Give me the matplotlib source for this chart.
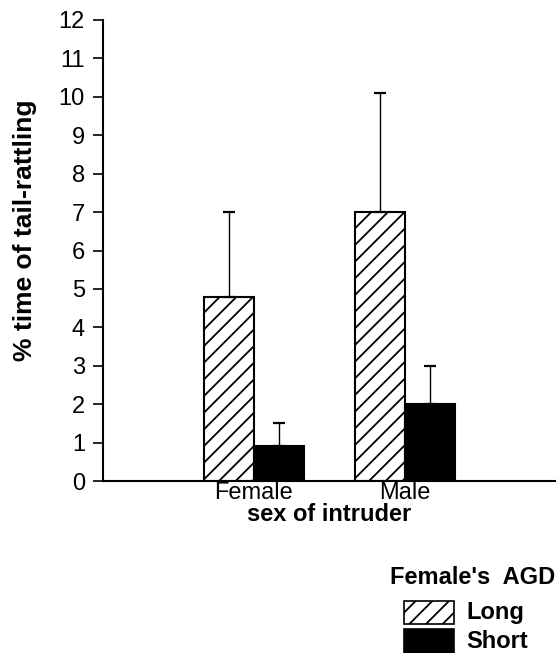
import matplotlib
matplotlib.use("Agg")
import matplotlib.pyplot as plt
from matplotlib.patches import Rectangle
import numpy as np

plt.rcParams['font.family'] = ['Liberation Sans', 'DejaVu Sans']
plt.rcParams['hatch.linewidth'] = 1.3

categories = ["Female", "Male"]
series_names = ["Long", "Short"]
long_values = [4.8, 7.0]
long_err = [2.2, 3.1]
short_values = [0.9, 2.0]
short_err = [0.6, 1.0]
yticks = list(range(0, 13))

W, H = 556, 653
fig = plt.figure(figsize=(W / 100, H / 100), dpi=100)
ax = fig.add_axes([103 / W, 172 / H, 453 / W, 461 / H])

x = np.arange(1, len(categories) + 1)
width = 0.33

ax.bar(x - width / 2, long_values, width, color='white', edgecolor='black',
       hatch='//', linewidth=1.5, zorder=2)
ax.bar(x + width / 2, short_values, width, color='black', edgecolor='black',
       linewidth=1.5, zorder=2)
ax.errorbar(x - width / 2, long_values, yerr=[[0] * len(long_err), long_err],
            fmt='none', ecolor='black', elinewidth=1.0, capsize=4.5, capthick=1.6, zorder=3)
ax.errorbar(x + width / 2, short_values, yerr=[[0] * len(short_err), short_err],
            fmt='none', ecolor='black', elinewidth=1.0, capsize=4.5, capthick=1.6, zorder=3)

ax.set_xlim(0, 3)
ax.set_ylim(0, 12)
ax.set_yticks(yticks)
ax.set_xticks(x)
ax.set_xticklabels(categories)
ax.tick_params(axis='y', length=7, width=1.2, pad=6, labelsize=17, direction='out')
ax.tick_params(axis='x', length=0, pad=1, labelsize=17)
for s in ['top', 'right', 'bottom']:
    ax.spines[s].set_visible(False)
ax.spines['left'].set_linewidth(1.5)
ax.axhline(0, xmin=0, xmax=1, color='black', linewidth=1.5, clip_on=False, zorder=4)

ax.set_ylabel("% time of tail-rattling", fontsize=19, fontweight='bold')
ax.yaxis.set_label_coords(-0.146, 0.544)
ax.set_xlabel("sex of intruder", fontsize=17, fontweight='bold', labelpad=-1)

# legend
def fx(px):
    return px / W

def fy(py):
    return 1 - py / H

fig.text(fx(390), fy(578), "Female's  AGD", fontsize=17, fontweight='bold',
         ha='left', va='center')
fig.patches.append(Rectangle((fx(404), fy(624)), fx(454) - fx(404), fy(601) - fy(624),
                             transform=fig.transFigure, facecolor='white',
                             edgecolor='black', hatch='//', linewidth=1.2))
fig.patches.append(Rectangle((fx(404), fy(653)), fx(454) - fx(404), fy(629) - fy(653),
                             transform=fig.transFigure, facecolor='black',
                             edgecolor='black', linewidth=1.2))
fig.text(fx(466), fy(613), series_names[0], fontsize=17, fontweight='bold',
         ha='left', va='center')
fig.text(fx(466), fy(642), series_names[1], fontsize=17, fontweight='bold',
         ha='left', va='center')

fig.savefig("out.png", dpi=100, facecolor='white')
